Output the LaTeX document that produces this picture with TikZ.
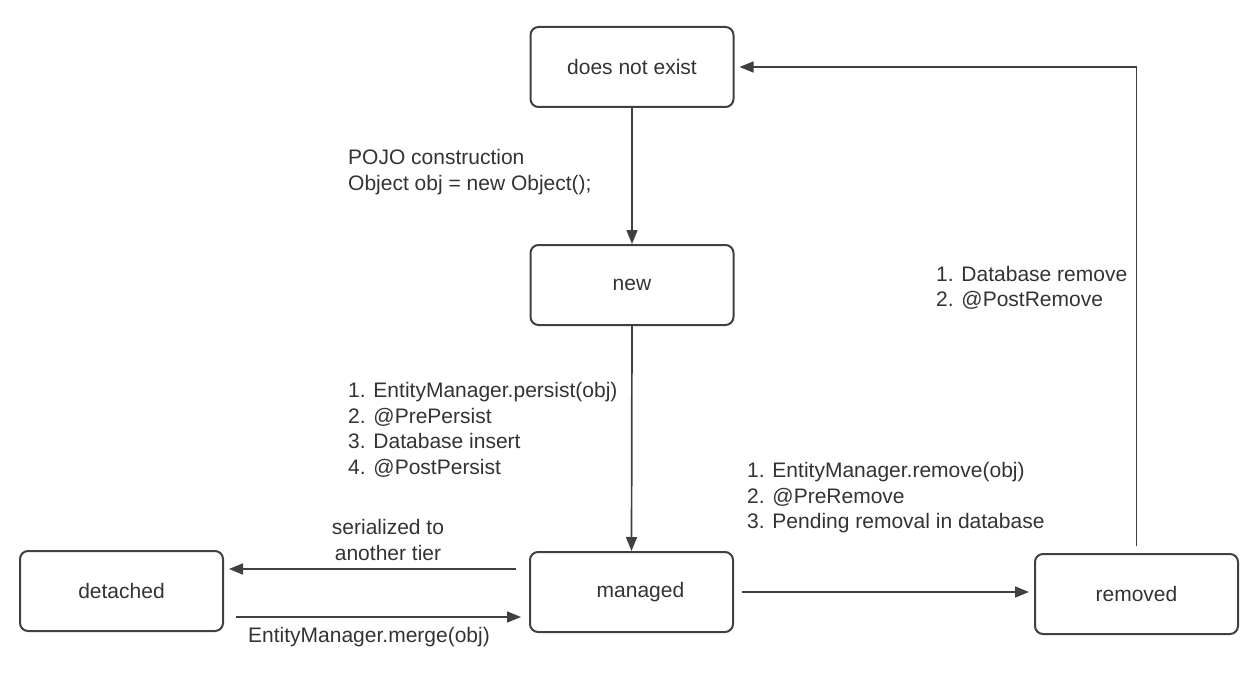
\documentclass[tikz,border=0pt]{standalone}
\usepackage{fontspec}
\setmainfont{Liberation Sans}
\usetikzlibrary{arrows.meta,calc}
\definecolor{linec}{HTML}{404040}
\definecolor{textc}{HTML}{333333}
\begin{document}
\begin{tikzpicture}[x=1pt,y=-1pt,
  font=\fontsize{21}{25.5}\selectfont,
  state/.style={draw=linec, line width=2pt, rounded corners=8pt, minimum width=203pt, minimum height=80pt, inner sep=0pt, text=textc},
  lbl/.style={text=textc, inner sep=0pt},
  arr/.style={draw=linec, line width=1.7pt, -{Triangle[length=14pt,width=11pt]}}
]
\useasboundingbox (0,0) rectangle (1254,674);
\node[state] (dne) at (632,67) {does not exist};
\node[state] (new) at (632,285) {new};
\node[state] (managed) at (631.5,592) {\hspace*{18pt}managed};
\node[state] (detached) at (121.5,591) {detached};
\node[state] (removed) at (1136.5,594) {removed};

\draw[arr] (dne.south) -- (new.north);
\draw[arr] (new.south) -- (managed.north);
\draw[arr, shorten <=13pt, shorten >=5pt] ([yshift=23pt]managed.west) -- ([yshift=23pt]managed.west -| detached.east);
\draw[arr, shorten <=12pt, shorten >=8pt] ([yshift=-25pt]managed.west -| detached.east) -- ([yshift=-25pt]managed.west);
\draw[arr, shorten <=8pt, shorten >=5pt] (managed.east) -- (managed.east -| removed.west);
\draw[arr, shorten <=7pt, shorten >=5pt] (removed.north) -- (removed.north |- dne.east) -- (dne.east);

\node[lbl, anchor=west, align=left] (pojo) at (348,172) {POJO construction\\Object obj = new Object();};
\node[lbl, anchor=west, align=left] (persist) at (348,430) {1. EntityManager.persist(obj)\\2. @PrePersist\\3. Database insert\\4. @PostPersist};
\node[lbl, align=center] (ser) at (388,540) {serialized to\\another tier};
\node[lbl] (merge) at (369,637) {EntityManager.merge(obj)};
\node[lbl, anchor=west, align=left] (rem) at (747,498) {1. EntityManager.remove(obj)\\2. @PreRemove\\3. Pending removal in database};
\node[lbl, anchor=west, align=left] (dbrem) at (936,288) {1. Database remove\\2. @PostRemove};
\end{tikzpicture}
\end{document}
